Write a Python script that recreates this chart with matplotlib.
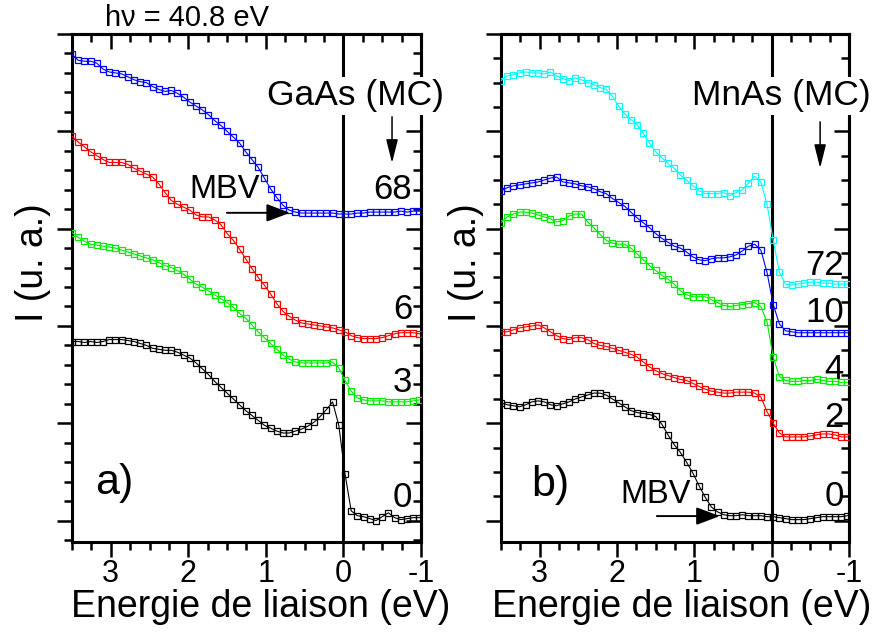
import matplotlib
matplotlib.use("Agg")
import matplotlib.pyplot as plt
from matplotlib.ticker import MultipleLocator, NullFormatter

plt.rcParams['font.family'] = ['Liberation Sans', 'DejaVu Sans']
plt.rcParams['axes.unicode_minus'] = False

# binding energy grid (eV)
energy = [3.50, 3.42, 3.34, 3.26, 3.18, 3.10, 3.02, 2.94, 2.86, 2.78,
          2.70, 2.62, 2.54, 2.46, 2.38, 2.30, 2.22, 2.14, 2.06, 1.98,
          1.90, 1.82, 1.74, 1.66, 1.58, 1.50, 1.42, 1.34, 1.26, 1.18,
          1.10, 1.02, 0.94, 0.86, 0.78, 0.70, 0.62, 0.54, 0.46, 0.38,
          0.30, 0.22, 0.14, 0.06, -0.02, -0.10, -0.18, -0.26, -0.34, -0.42,
          -0.50, -0.58, -0.66, -0.74, -0.82, -0.90, -0.98]

# panel a) GaAs coverages (MC)
gaas_68 = [4.79, 4.73, 4.72, 4.72, 4.70, 4.64, 4.61, 4.60, 4.59, 4.56,
           4.53, 4.51, 4.50, 4.46, 4.43, 4.41, 4.42, 4.39, 4.35, 4.30,
           4.26, 4.22, 4.17, 4.11, 4.06, 4.00, 3.94, 3.88, 3.79, 3.71,
           3.63, 3.52, 3.41, 3.32, 3.24, 3.19, 3.17, 3.16, 3.16, 3.16,
           3.16, 3.16, 3.16, 3.15, 3.15, 3.15, 3.16, 3.16, 3.17, 3.17,
           3.17, 3.17, 3.17, 3.18, 3.17, 3.18, 3.18]
gaas_6 = [3.95, 3.89, 3.84, 3.79, 3.75, 3.71, 3.68, 3.68, 3.68, 3.66,
          3.62, 3.59, 3.56, 3.53, 3.46, 3.37, 3.29, 3.25, 3.22, 3.19,
          3.14, 3.12, 3.12, 3.09, 3.04, 2.95, 2.88, 2.79, 2.69, 2.59,
          2.50, 2.42, 2.33, 2.23, 2.15, 2.10, 2.06, 2.03, 2.02, 2.01,
          2.00, 1.99, 1.98, 1.96, 1.94, 1.90, 1.88, 1.87, 1.87, 1.87,
          1.88, 1.90, 1.92, 1.93, 1.93, 1.93, 1.92]
gaas_3 = [2.96, 2.91, 2.87, 2.84, 2.83, 2.82, 2.81, 2.80, 2.78, 2.76,
          2.74, 2.72, 2.70, 2.68, 2.65, 2.62, 2.60, 2.57, 2.53, 2.48,
          2.43, 2.40, 2.36, 2.32, 2.28, 2.24, 2.19, 2.13, 2.08, 2.01,
          1.94, 1.88, 1.82, 1.76, 1.70, 1.66, 1.63, 1.62, 1.62, 1.62,
          1.62, 1.62, 1.63, 1.57, 1.44, 1.33, 1.26, 1.24, 1.23, 1.23,
          1.23, 1.22, 1.22, 1.22, 1.22, 1.23, 1.24]
gaas_0 = [1.84, 1.84, 1.83, 1.84, 1.83, 1.84, 1.86, 1.86, 1.86, 1.85,
          1.84, 1.82, 1.80, 1.77, 1.76, 1.75, 1.75, 1.73, 1.70, 1.67,
          1.62, 1.56, 1.50, 1.43, 1.37, 1.31, 1.25, 1.19, 1.13, 1.08,
          1.03, 0.98, 0.95, 0.92, 0.90, 0.90, 0.92, 0.94, 0.97, 1.01,
          1.07, 1.14, 1.22, 0.98, 0.48, 0.10, 0.05, 0.04, 0.02, 0.00,
          0.04, 0.08, 0.03, 0.01, 0.02, 0.03, 0.03]

# panel b) MnAs coverages (MC)
mnas_72 = [4.52, 4.57, 4.58, 4.60, 4.61, 4.60, 4.60, 4.59, 4.61, 4.57,
           4.54, 4.52, 4.55, 4.53, 4.50, 4.48, 4.45, 4.43, 4.36, 4.26,
           4.18, 4.12, 4.07, 3.98, 3.88, 3.79, 3.73, 3.67, 3.62, 3.55,
           3.50, 3.44, 3.39, 3.36, 3.36, 3.36, 3.37, 3.34, 3.37, 3.40,
           3.47, 3.54, 3.48, 3.25, 2.88, 2.55, 2.43, 2.42, 2.43, 2.44,
           2.45, 2.45, 2.44, 2.44, 2.43, 2.43, 2.43]
mnas_10 = [3.39, 3.42, 3.44, 3.45, 3.46, 3.47, 3.48, 3.50, 3.52, 3.53,
           3.48, 3.47, 3.46, 3.44, 3.43, 3.41, 3.38, 3.36, 3.31, 3.27,
           3.23, 3.17, 3.11, 3.06, 3.01, 2.95, 2.90, 2.86, 2.82, 2.80,
           2.76, 2.71, 2.68, 2.67, 2.69, 2.70, 2.70, 2.71, 2.73, 2.77,
           2.82, 2.84, 2.78, 2.55, 2.22, 2.02, 1.95, 1.94, 1.93, 1.93,
           1.93, 1.93, 1.93, 1.93, 1.93, 1.93, 1.93]
mnas_4 = [3.06, 3.12, 3.15, 3.17, 3.17, 3.16, 3.14, 3.12, 3.10, 3.07,
          3.08, 3.13, 3.15, 3.15, 3.07, 3.01, 2.94, 2.88, 2.85, 2.84,
          2.84, 2.80, 2.74, 2.68, 2.62, 2.57, 2.52, 2.48, 2.43, 2.36,
          2.32, 2.30, 2.30, 2.30, 2.27, 2.24, 2.21, 2.20, 2.21, 2.22,
          2.23, 2.24, 2.20, 2.04, 1.68, 1.48, 1.44, 1.43, 1.43, 1.44,
          1.44, 1.45, 1.44, 1.43, 1.43, 1.42, 1.42]
mnas_2 = [1.94, 1.94, 1.96, 1.98, 1.99, 2.00, 2.01, 1.98, 1.94, 1.90,
          1.87, 1.86, 1.88, 1.88, 1.86, 1.82, 1.80, 1.79, 1.77, 1.75,
          1.73, 1.71, 1.68, 1.63, 1.58, 1.54, 1.51, 1.49, 1.47, 1.45,
          1.44, 1.41, 1.38, 1.35, 1.33, 1.32, 1.31, 1.31, 1.32, 1.32,
          1.32, 1.31, 1.27, 1.12, 1.00, 0.90, 0.86, 0.86, 0.86, 0.86,
          0.87, 0.88, 0.89, 0.89, 0.88, 0.86, 0.86]
mnas_0 = [1.21, 1.19, 1.18, 1.17, 1.19, 1.22, 1.23, 1.22, 1.19, 1.18,
          1.20, 1.22, 1.25, 1.27, 1.29, 1.31, 1.31, 1.29, 1.25, 1.21,
          1.17, 1.13, 1.11, 1.10, 1.09, 1.07, 0.99, 0.88, 0.78, 0.70,
          0.60, 0.49, 0.36, 0.24, 0.14, 0.09, 0.06, 0.05, 0.05, 0.06,
          0.05, 0.05, 0.05, 0.04, 0.04, 0.03, 0.02, 0.01, 0.01, 0.01,
          0.02, 0.03, 0.04, 0.04, 0.04, 0.04, 0.05]

gaas_curves = [gaas_68, gaas_6, gaas_3, gaas_0]
gaas_colors = ['#0000ff', '#ff0000', '#00ee00', 'black']
gaas_labels = ['68', '6', '3', '0']
gaas_label_y = [0.693, 0.457, 0.313, 0.087]

mnas_curves = [mnas_72, mnas_10, mnas_4, mnas_2, mnas_0]
mnas_colors = ['#00ffff', '#0000ff', '#00ee00', '#ff0000', 'black']
mnas_labels = ['72', '10', '4', '2', '0']
mnas_label_y = [0.545, 0.451, 0.339, 0.246, 0.089]


def setup_axes(ax, minor_y):
    ax.set_xlim(3.5, -1)
    ax.set_ylim(-0.22, 5.0)
    ax.xaxis.set_major_locator(MultipleLocator(1))
    ax.xaxis.set_minor_locator(MultipleLocator(0.25))
    ax.yaxis.set_major_locator(MultipleLocator(1))
    ax.yaxis.set_minor_locator(MultipleLocator(minor_y))
    ax.yaxis.set_major_formatter(NullFormatter())
    for sp in ax.spines.values():
        sp.set_linewidth(2.2)
    ax.tick_params(axis='both', which='both', direction='out', width=1.8,
                   top=False, right=False)
    ax.tick_params(which='major', length=10.5, labelsize=22, pad=2)
    ax.tick_params(which='minor', length=5.5)
    # mirrored ticks pointing inward on top and right
    top = ax.secondary_xaxis('top')
    top.xaxis.set_major_locator(MultipleLocator(1))
    top.xaxis.set_minor_locator(MultipleLocator(0.25))
    top.tick_params(which='both', direction='in', width=1.8, labeltop=False)
    top.tick_params(which='major', length=10.5)
    top.tick_params(which='minor', length=5.5)
    top.spines['top'].set_linewidth(2.2)
    right = ax.secondary_yaxis('right')
    right.yaxis.set_major_locator(MultipleLocator(1))
    right.yaxis.set_minor_locator(MultipleLocator(minor_y))
    right.tick_params(which='both', direction='in', width=1.8, labelright=False)
    right.tick_params(which='major', length=10.5)
    right.tick_params(which='minor', length=5.5)
    right.spines['right'].set_linewidth(2.2)
    ax.axvline(0, color='black', lw=2.2, zorder=2)
    ax.set_xlabel('Energie de liaison (eV)', fontsize=27, labelpad=0)
    ax.set_ylabel('I (u. a.)', fontsize=27)


def arrow(ax, start, end, hl, hw, lw):
    ax.annotate('', xy=end, xytext=start, xycoords='axes fraction',
                textcoords='axes fraction',
                arrowprops=dict(arrowstyle='-|>,head_length=%g,head_width=%g' % (hl, hw),
                                mutation_scale=20, lw=lw, color='black',
                                shrinkA=0, shrinkB=0))


fig = plt.figure(figsize=(8.78, 6.33), dpi=100)
ax1 = fig.add_axes([72 / 878, 91 / 633, 349 / 878, 508 / 633])
ax2 = fig.add_axes([501 / 878, 91 / 633, 348 / 878, 508 / 633])

setup_axes(ax1, 0.2)
setup_axes(ax2, 0.25)
ax1.yaxis.set_label_coords(-0.06, 0.55)
ax2.yaxis.set_label_coords(-0.05, 0.55)
ax1.xaxis.label.set_x(0.54)
ax2.xaxis.label.set_x(0.52)

for y, c in zip(gaas_curves, gaas_colors):
    ax1.plot(energy, y, color=c, lw=0.8, marker='s', ms=5, mfc='none',
             mec=c, mew=0.9, zorder=3)
for y, c in zip(mnas_curves, mnas_colors):
    ax2.plot(energy, y, color=c, lw=0.8, marker='s', ms=5, mfc='none',
             mec=c, mew=0.9, zorder=3)

for lab, yy in zip(gaas_labels, gaas_label_y):
    ax1.text(0.975, yy, lab, transform=ax1.transAxes, ha='right', va='center',
             fontsize=25, zorder=6)
for lab, yy in zip(mnas_labels, mnas_label_y):
    ax2.text(0.985, yy, lab, transform=ax2.transAxes, ha='right', va='center',
             fontsize=25, zorder=6)

box = dict(facecolor='white', edgecolor='none', pad=1.5)
ax1.text(0.811, 0.878, 'GaAs (MC)', transform=ax1.transAxes, ha='center',
         va='center', fontsize=25.5, bbox=box, zorder=6, clip_on=False)
ax2.text(0.806, 0.878, 'MnAs (MC)', transform=ax2.transAxes, ha='center',
         va='center', fontsize=25.5, bbox=box, zorder=6, clip_on=False)

arrow(ax1, (0.917, 0.837), (0.917, 0.746), 0.72, 0.18, 1.1)
arrow(ax2, (0.917, 0.827), (0.917, 0.736), 0.72, 0.18, 1.1)

ax1.text(0.438, 0.693, 'MBV', transform=ax1.transAxes, ha='center',
         va='center', fontsize=23.5)
arrow(ax1, (0.444, 0.648), (0.625, 0.648), 0.72, 0.27, 1.4)
ax2.text(0.445, 0.093, 'MBV', transform=ax2.transAxes, ha='center',
         va='center', fontsize=23.5)
arrow(ax2, (0.448, 0.051), (0.629, 0.051), 0.72, 0.27, 1.4)

ax1.text(0.12, 0.116, 'a)', transform=ax1.transAxes, ha='center',
         va='center', fontsize=31)
ax2.text(0.141, 0.112, 'b)', transform=ax2.transAxes, ha='center',
         va='center', fontsize=31)

ax1.text(0.33, 1.031, 'h\u03bd = 40.8 eV', transform=ax1.transAxes,
         ha='center', va='center', fontsize=21)

fig.savefig('out.png', dpi=100)
